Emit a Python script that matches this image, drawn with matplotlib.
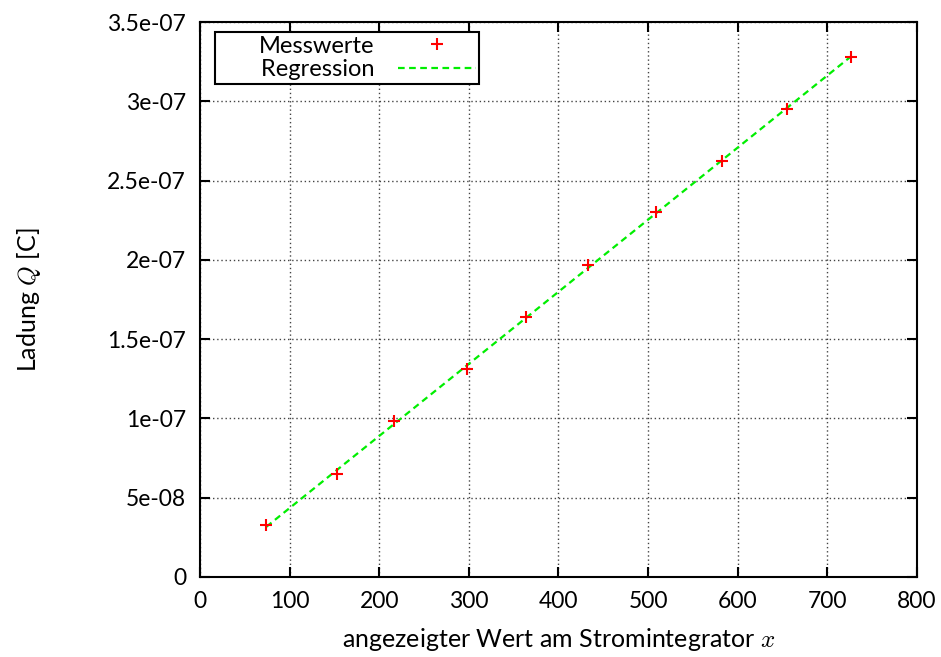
import numpy as np
import matplotlib
matplotlib.use("Agg")
import matplotlib.pyplot as plt

# Messwerte
anzeige = [74, 153, 217, 298, 364, 433, 509, 582, 655, 726]
ladung = [3.28e-8, 6.5e-8, 9.85e-8, 1.31e-7, 1.64e-7, 1.97e-7, 2.3e-7, 2.625e-7, 2.95e-7, 3.28e-7]

x_ticks = [0, 100, 200, 300, 400, 500, 600, 700, 800]
y_ticks = [0, 5e-8, 1e-7, 1.5e-7, 2e-7, 2.5e-7, 3e-7, 3.5e-7]
y_labels = ["0", "5e-08", "1e-07", "1.5e-07", "2e-07", "2.5e-07", "3e-07", "3.5e-07"]

plt.rcParams["font.family"] = ["Lato", "DejaVu Sans"]
plt.rcParams["mathtext.fontset"] = "cm"

fig = plt.figure(figsize=(9.41, 6.57), dpi=100)
ax = fig.add_axes([0.2125, 0.1218, 0.762, 0.8447])

# Regressionsgerade
m, b = np.polyfit(anzeige, ladung, 1)
xr = np.array([min(anzeige), max(anzeige)])

ax.plot(anzeige, ladung, linestyle="none", marker="+", color="red",
        markersize=8, markeredgewidth=1.5, label="Messwerte", zorder=3)
# gnuplot-Legende: Text rechtsbuendig mit Platz links
ax.plot(xr, m * xr + b, color="#00ee00", linestyle=(0, (3, 2)), linewidth=1.6,
        label="       Regression", zorder=2)

ax.set_xlim(0, 800)
ax.set_ylim(0, 3.5e-7)
ax.set_xticks(x_ticks)
ax.set_yticks(y_ticks)
ax.set_yticklabels(y_labels)
ax.tick_params(direction="in", top=True, right=True, length=7, width=1.5,
               labelsize=16.5, pad=10)
for s in ax.spines.values():
    s.set_linewidth(1.5)
ax.grid(True, color="#444444", linestyle=(0, (1, 2)), linewidth=1)

ax.set_xlabel(r"angezeigter Wert am Stromintegrator $x$", fontsize=18, labelpad=10)
ax.set_ylabel(r"Ladung $Q$ [C]", fontsize=18, labelpad=46)

leg = ax.legend(loc="upper left", bbox_to_anchor=(0.021, 0.982), markerfirst=False,
                fancybox=False, edgecolor="black", framealpha=1, fontsize=17,
                borderpad=0.15, handlelength=3.3, labelspacing=0.12,
                borderaxespad=0, handletextpad=1.0)
leg.get_frame().set_linewidth(1.5)
for t in leg.get_texts():
    t.set_ha("right")

fig.savefig("out.png", dpi=100)
